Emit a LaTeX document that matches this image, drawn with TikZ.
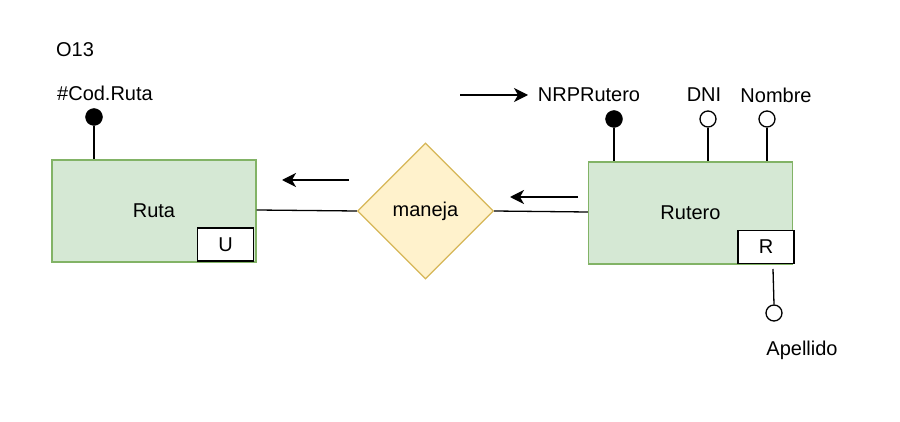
\documentclass[tikz,border=0pt]{standalone}
\usepackage{fontspec}
\setmainfont{Liberation Sans}
\usetikzlibrary{shapes.geometric,arrows.meta}
\definecolor{entfill}{HTML}{D5E8D4}
\definecolor{entdraw}{HTML}{82B366}
\definecolor{relfill}{HTML}{FFF2CC}
\definecolor{reldraw}{HTML}{D6B656}
\begin{document}
\begin{tikzpicture}[x=1pt,y=-1pt,
  every node/.style={font=\fontsize{20}{22}\selectfont, inner sep=0pt},
  entity/.style={draw=entdraw, fill=entfill, line width=1.3pt, minimum width=204pt, minimum height=102pt},
  tagbox/.style={draw=black, fill=white, line width=1.3pt, minimum width=56pt, minimum height=33pt},
  rel/.style={diamond, draw=reldraw, fill=relfill, line width=1.3pt, minimum width=136pt, minimum height=136pt, aspect=1},
  keyattr/.style={circle, draw=black, fill=black, minimum size=17pt},
  attr/.style={circle, draw=black, fill=white, line width=1.3pt, minimum size=16pt},
  conn/.style={line width=1.3pt},
  arr/.style={line width=1.3pt, -{Stealth[length=14pt,width=14pt,inset=4pt]}}]
\useasboundingbox (0,0) rectangle (900,422);
% entities
\node[entity] (ruta) at (154,211) {Ruta};
\node[tagbox] (u) at (225.5,244.5) {U};
\node[entity] (rutero) at (690.5,213) {Rutero};
\node[tagbox] (r) at (766,247) {R};
\node[rel] (maneja) at (425.5,211) {maneja};
% texts
\node (o13) at (75,50) {O13};
\node (codruta) at (105,93) {\#Cod.Ruta};
\node (nrp) at (589,95) {NRPRutero};
\node (dni) at (704,95) {DNI};
\node (nombre) at (776,95) {Nombre};
\node (apellido) at (802,350) {Apellido};
% attribute circles
\node[keyattr] (kcod) at (94,117) {};
\node[keyattr] (knrp) at (614,119) {};
\node[attr] (adni) at (708,119) {};
\node[attr] (anom) at (767,119) {};
\node[attr] (aape) at (774,313) {};
% attribute lines
\draw[conn] (kcod.south) -- (kcod.south |- ruta.north);
\draw[conn] (knrp.south) -- (knrp.south |- rutero.north);
\draw[conn] (adni.south) -- (adni.south |- rutero.north);
\draw[conn] (anom.south) -- (anom.south |- rutero.north);
\coordinate (rbot) at (773,269);
\draw[conn] (rbot) -- (aape.north);
% relationship lines
\draw[conn] (ruta.east |- 0,210) -- (maneja.west);
\draw[conn] (maneja.east) -- (rutero.west |- 0,212);
% arrows
\coordinate (a1s) at (349,180);
\coordinate (a1e) at (282,180);
\draw[arr] (a1s) -- (a1e);
\coordinate (a2s) at (578,197);
\coordinate (a2e) at (510,197);
\draw[arr] (a2s) -- (a2e);
\coordinate (a3s) at (460,95);
\coordinate (a3e) at (528,95);
\draw[arr] (a3s) -- (a3e);
\end{tikzpicture}
\end{document}
